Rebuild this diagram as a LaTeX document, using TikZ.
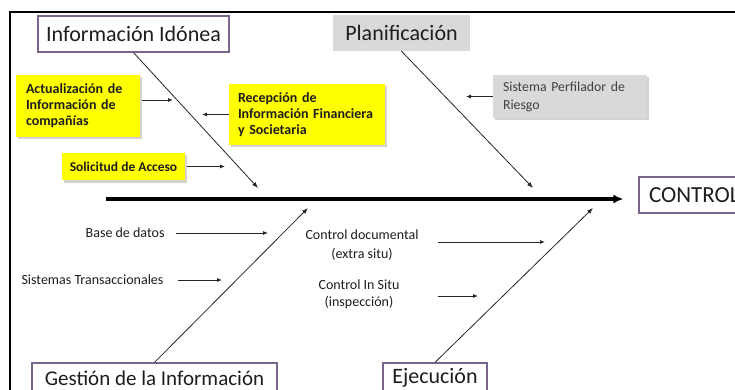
\documentclass[tikz,border=0pt]{standalone}
\usepackage{fontspec}
\setmainfont{Carlito}
\usetikzlibrary{arrows.meta,shadows}
\definecolor{boxpurple}{RGB}{120,100,140}
\definecolor{boxgray}{RGB}{217,217,217}
\definecolor{stickyyellow}{RGB}{255,255,0}
\definecolor{txtdark}{RGB}{30,30,30}
\definecolor{txtgray}{RGB}{64,64,64}
\begin{document}
\begin{tikzpicture}[x=1pt,y=-1pt,
  catbox/.style={draw=boxpurple,line width=1.2pt,fill=white,inner sep=0pt,
    minimum height=36pt,font=\fontsize{22}{24}\selectfont,text=txtdark},
  note/.style={fill=stickyyellow,inner sep=0pt,text=txtdark,
    drop shadow={shadow xshift=2pt,shadow yshift=-2.5pt,opacity=0.35}},
  grynote/.style={fill=boxgray,inner sep=0pt,text=txtgray,
    drop shadow={shadow xshift=2pt,shadow yshift=-2.5pt,opacity=0.35}},
  small/.style={font=\fontsize{14}{16}\selectfont,text=txtdark},
  bone/.style={draw=black!85,line width=0.8pt,-{Latex[length=6pt,width=4.5pt]}},
  twig/.style={draw=black!85,line width=0.8pt,-{Latex[length=5pt,width=4pt]}},
  spine/.style={draw=black,line width=3.2pt,-{Latex[length=10pt,width=9pt]}}]
\clip (0,0) rectangle (735,390);
\fill[white] (0,0) rectangle (735,390);
% frame
\draw[line width=1.5pt] (10,400) -- (10,12) -- (745,12);

% category boxes
\node[catbox,minimum width=191pt] (info) at (133.5,34) {Información Idónea};
\node[fill=boxgray,inner sep=0pt,minimum width=137pt,minimum height=36pt,
  font=\fontsize{22}{24}\selectfont,text=txtdark] (plan) at (401.5,33) {Planificación};
\node[catbox,minimum width=245pt,minimum height=30pt,
  font=\fontsize{21}{23}\selectfont] (gest) at (154.5,378) {Gestión de la Información};
\node[catbox,minimum width=104pt,minimum height=30pt] (ejec) at (435,378) {Ejecución};
\node[catbox,minimum width=110pt,text width=100pt,align=left,
  font=\fontsize{23}{25}\selectfont] (ctrl) at (694,195) {\hspace*{5pt}CONTROL};

% spine
\coordinate (sp0) at (106,199);
\draw[spine] (sp0) -- (sp0 -| ctrl.west) [shorten >=15pt];

% bones
\coordinate (tinfo) at (258,188);
\coordinate (tplan) at (533,188);
\coordinate (tgest) at (308,208);
\coordinate (tejec) at (593,208);
\draw[bone] (info.south) -- (tinfo);
\draw[bone] (plan.south) -- (tplan);
\draw[bone] (gest.north) -- (tgest);
\draw[bone] (ejec.north) -- (tejec);

% yellow notes
\node[note,minimum width=124pt,minimum height=62pt,text width=104pt,align=left,
  font=\bfseries\fontsize{14}{16}\selectfont] (act) at (78,106)
  {Actualización de\\Información de\\compañías};
\node[note,minimum width=156pt,minimum height=61pt,text width=138pt,align=left,
  font=\bfseries\fontsize{14}{16}\selectfont] (rec) at (307,114.5)
  {Recepción de\\Información Financiera\\y Societaria};
\node[note,minimum width=123pt,minimum height=27pt,
  font=\bfseries\fontsize{13.5}{15}\selectfont] (sol) at (123.5,166.5)
  {Solicitud de Acceso};
\node[grynote,minimum width=154pt,minimum height=43pt,text width=134pt,align=left,
  font=\fontsize{13.8}{18}\selectfont] (sis) at (570,96.5)
  {Sistema Perfilador de\\Riesgo};

\coordinate (aact) at (173,100);
\draw[twig] (act.east |- aact) ++(2,0) coordinate (sact) (sact) -- (aact);
\coordinate (arec) at (202,114.5);
\draw[twig] (rec.west) -- (arec);
\coordinate (asol) at (225,166.5);
\draw[twig] (sol.east) ++(2,0) coordinate (ssol) (ssol) -- (asol);
\coordinate (asis) at (466,96.5);
\draw[twig] (sis.west) -- (asis);

% lower causes
\node[small,anchor=east] (base) at (168,233) {Base de datos};
\node[small,anchor=east] (strans) at (167,280) {Sistemas Transaccionales};
\node[small,align=center,font=\fontsize{14}{18.5}\selectfont] (cdoc) at (362,245)
  {Control documental\\(extra situ)};
\node[small,align=center,font=\fontsize{14}{16.5}\selectfont] (cins) at (359,294.5)
  {Control In Situ\\(inspección)};

\coordinate (abase) at (268,233);
\coordinate (astrans) at (222,280);
\coordinate (acdoc) at (545,242);
\coordinate (acins) at (478,296);
\coordinate (scdoc) at (438,242);
\coordinate (scins) at (438,296);
\draw[twig] (base.east) ++(8,0) coordinate (sbase) (sbase) -- (abase);
\draw[twig] (strans.east) ++(11,0) coordinate (sstrans) (sstrans) -- (astrans);
\draw[twig] (scdoc) -- (acdoc);
\draw[twig] (scins) -- (acins);
\end{tikzpicture}
\end{document}
